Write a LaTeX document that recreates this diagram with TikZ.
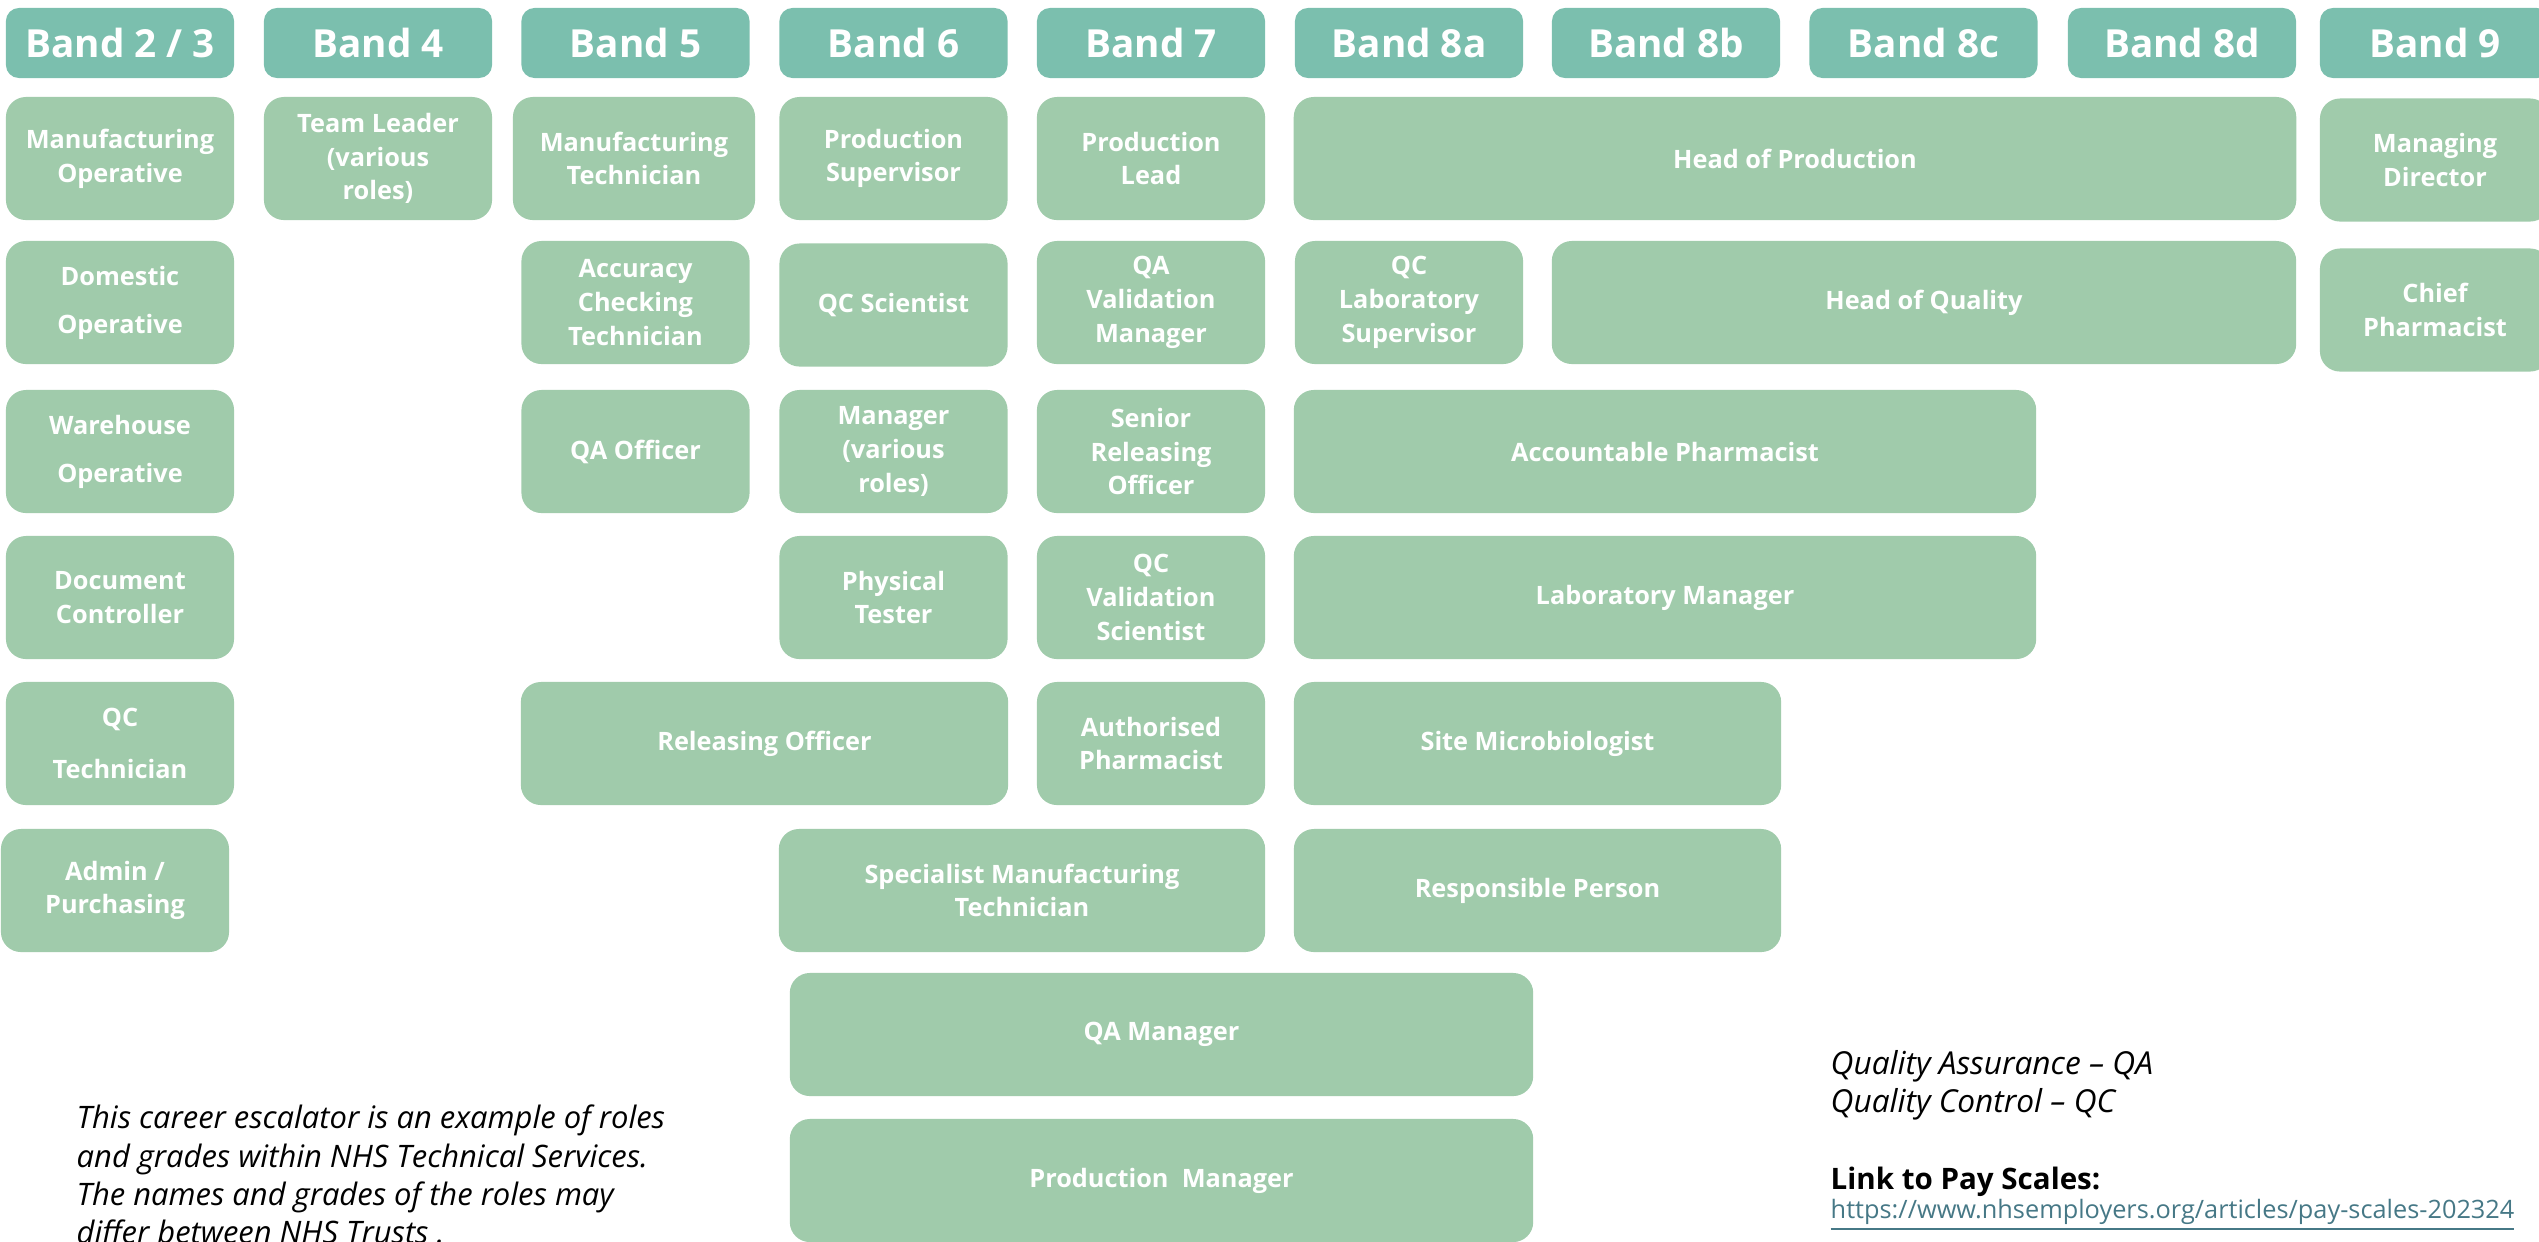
\documentclass[tikz,border=0pt]{standalone}
\usepackage{fontspec}
\setmainfont{Open Sans}
\usetikzlibrary{positioning}
\definecolor{bandteal}{RGB}{123,191,174}
\definecolor{rolegreen}{RGB}{160,203,171}
\definecolor{linkblue}{RGB}{70,120,134}

\begin{document}
\begin{tikzpicture}[
    x=0.01cm, y=-0.01cm,
    band/.style={fill=bandteal, text=white, rounded corners=0.13cm, minimum width=2.28cm, minimum height=0.70cm, inner sep=0pt, font=\bfseries\fontsize{11}{13}\selectfont},
    role/.style={fill=rolegreen, text=white, rounded corners=0.2cm, minimum width=2.28cm, minimum height=1.23cm, inner sep=0pt, align=center, font=\bfseries\fontsize{7.2}{9.6}\selectfont},
    note/.style={anchor=base west, inner sep=0pt, font=\itshape\fontsize{8.8}{10.9}\selectfont}
]
    \useasboundingbox (0,0) rectangle (2539,1241);
    \clip (0,0) rectangle (2539,1241);

    % Band headers
    \node[band] (b23) at (120, 43) {Band 2 / 3};
    \node[band] (b4) at (378, 43) {Band 4};
    \node[band] (b5) at (635.5, 43) {Band 5};
    \node[band] (b6) at (893.5, 43) {Band 6};
    \node[band] (b7) at (1151, 43) {Band 7};
    \node[band] (b8a) at (1409, 43) {Band 8a};
    \node[band] (b8b) at (1666, 43) {Band 8b};
    \node[band] (b8c) at (1923.5, 43) {Band 8c};
    \node[band] (b8d) at (2182, 43) {Band 8d};
    \node[band, minimum width=2.30cm] (b9) at (2435, 43) {Band 9};

    % Band 2 / 3
    \node[role] (manop) at (120, 158.5) {Manufacturing\\Operative};
    \node[role] (domop) at (120, 302.5) {Domestic\\[4pt]Operative};
    \node[role] (wareop) at (120, 451.5) {Warehouse\\[4pt]Operative};
    \node[role] (doccon) at (120, 597.5) {Document\\Controller};
    \node[role] (qctech) at (120, 743.5) {QC\\[5pt]Technician};
    \node[role] (admin) at (115, 890.5) {Admin /\\Purchasing};

    % Band 4
    \node[role] (teamlead) at (378, 158.5) {Team Leader\\(various\\roles)};

    % Band 5
    \node[role, minimum width=2.42cm] (mantech) at (634, 158.5) {Manufacturing\\Technician};
    \node[role] (acctech) at (635.5, 302.5) {Accuracy\\Checking\\Technician};
    \node[role] (qaoff) at (635.5, 451.5) {QA Officer};
    \node[role, minimum width=4.87cm] (reloff) at (764.5, 743.5) {Releasing Officer};

    % Band 6
    \node[role] (prodsup) at (893.5, 158.5) {Production\\Supervisor};
    \node[role] (qcsci) at (893.5, 305) {QC Scientist};
    \node[role] (manager) at (893.5, 451.5) {Manager\\(various\\roles)};
    \node[role] (phystest) at (893.5, 597.5) {Physical\\Tester};
    \node[role, minimum width=4.86cm] (specman) at (1022, 890.5) {Specialist Manufacturing\\Technician};
    \node[role, minimum width=7.43cm] (qaman) at (1161.5, 1034.5) {QA Manager};
    \node[role, minimum width=7.43cm] (prodman) at (1161.5, 1180.5) {Production\ \ Manager};

    % Band 7
    \node[role] (prodlead) at (1151, 158.5) {Production\\Lead};
    \node[role] (qavalman) at (1151, 302.5) {QA\\Validation\\Manager};
    \node[role] (senrel) at (1151, 451.5) {Senior\\Releasing\\Officer};
    \node[role] (qcvalsci) at (1151, 597.5) {QC\\Validation\\Scientist};
    \node[role] (authpharm) at (1151, 743.5) {Authorised\\Pharmacist};

    % Band 8a and up
    \node[role, minimum width=10.02cm] (headprod) at (1795, 158.5) {Head of Production};
    \node[role] (qclabsup) at (1409, 302.5) {QC\\Laboratory\\Supervisor};
    \node[role, minimum width=7.44cm] (headqual) at (1924, 302.5) {Head of Quality};
    \node[role, minimum width=7.42cm] (accpharm) at (1665, 451.5) {Accountable Pharmacist};
    \node[role, minimum width=7.42cm] (labman) at (1665, 597.5) {Laboratory Manager};
    \node[role, minimum width=4.87cm] (sitemicro) at (1537.5, 743.5) {Site Microbiologist};
    \node[role, minimum width=4.87cm] (respperson) at (1537.5, 890.5) {Responsible Person};

    % Band 9
    \node[role, minimum width=2.30cm] (mandir) at (2435, 160) {Managing\\Director};
    \node[role, minimum width=2.30cm] (chiefpharm) at (2435, 310) {Chief\\Pharmacist};

    % Notes
    \node[note] (disc1) at (76, 1128) {This career escalator is an example of roles};
    \node[note] (disc2) at (76, 1167) {and grades within NHS Technical Services.};
    \node[note] (disc3) at (76, 1205) {The names and grades of the roles may};
    \node[note] (disc4) at (76, 1243) {differ between NHS Trusts .};

    \node[note, font=\itshape\fontsize{9}{11}\selectfont] (qadef) at (1830, 1074) {Quality Assurance -- QA};
    \node[note, font=\itshape\fontsize{9}{11}\selectfont] (qcdef) at (1830, 1112) {Quality Control -- QC};
    \node[note, font=\bfseries\fontsize{8.4}{10}\selectfont] (linkhead) at (1830, 1189) {Link to Pay Scales:};
    \node[note, font=\fontsize{7.2}{9}\selectfont, text=linkblue] (link) at (1830, 1218) {\underline{https://www.nhsemployers.org/articles/pay-scales-202324}};
\end{tikzpicture}
\end{document}
